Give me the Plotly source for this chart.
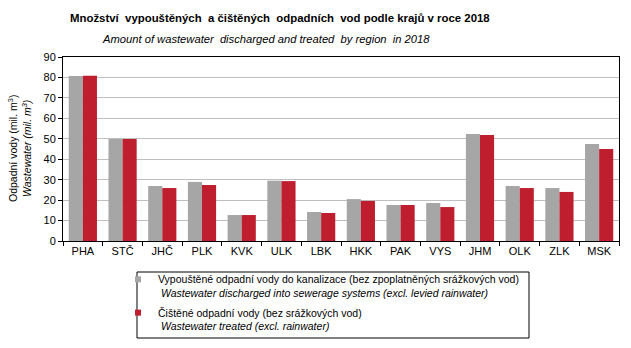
import plotly.graph_objects as go

regions = ["PHA", "STČ", "JHČ", "PLK", "KVK", "ULK", "LBK", "HKK", "PAK", "VYS", "JHM", "OLK", "ZLK", "MSK"]
discharged = [80.7, 49.9, 26.9, 28.9, 12.7, 29.5, 14.2, 20.5, 17.6, 18.6, 52.3, 26.9, 25.9, 47.4]
treated = [80.8, 49.9, 25.9, 27.4, 12.7, 29.3, 13.7, 19.6, 17.6, 16.6, 51.8, 25.9, 24.0, 45.0]
y_ticks = [0, 10, 20, 30, 40, 50, 60, 70, 80, 90]

name1 = ("Vypouštěné odpadní vody do kanalizace (bez zpoplatněných srážkových vod)"
         "<br> <i>Wastewater discharged into sewerage systems (excl. levied rainwater)</i>")
name2 = "Čištěné odpadní vody (bez srážkových vod)<br> <i>Wastewater treated (excl. rainwater)</i>"
GRAY = "#A6A6A6"
RED = "#BE1E2D"

FONT = "Liberation Sans, Arial, sans-serif"
L, R, T, B = 63, 12, 57, 107
W, H = 631, 348
pw = W - L - R
ph = H - T - B


def px(x):
    return (x - L) / pw


def py(y):
    return (H - B - y) / ph


fig = go.Figure()
fig.add_trace(go.Bar(x=regions, y=discharged, name=name1, showlegend=False,
                     marker=dict(color=GRAY, line=dict(width=0))))
fig.add_trace(go.Bar(x=regions, y=treated, name=name2, showlegend=False,
                     marker=dict(color=RED, line=dict(width=0))))
# legend entries with small square symbols
fig.add_trace(go.Scatter(x=[None], y=[None], mode="markers", name=name1, legendgroup="a",
                         marker=dict(symbol="square", size=6, color=GRAY)))
fig.add_trace(go.Scatter(x=[None], y=[None], mode="markers", name=name2, legendgroup="b",
                         marker=dict(symbol="square", size=6, color=RED)))

fig.update_layout(
    width=W, height=H,
    margin=dict(l=L, r=R, t=T, b=B, autoexpand=False),
    paper_bgcolor="white", plot_bgcolor="white",
    font=dict(family=FONT, size=11, color="black"),
    barmode="group", bargap=0.29, bargroupgap=0,
    showlegend=True,
    legend=dict(x=px(118), y=py(266), xanchor="left", yanchor="top",
                borderwidth=0, bgcolor="rgba(0,0,0,0)", valign="top",
                font=dict(size=10.5, family=FONT), tracegroupgap=3,
                itemwidth=30, traceorder="grouped"),
    shapes=[dict(type="rect", xref="paper", yref="paper",
                 x0=px(137), x1=px(529), y0=py(272), y1=py(338),
                 line=dict(color="black", width=1), fillcolor="rgba(0,0,0,0)")],
    annotations=[
        dict(text="<b>Množství  vypouštěných  a čištěných  odpadních  vod podle krajů v roce 2018</b>",
             x=px(280), y=py(18), xref="paper", yref="paper", showarrow=False,
             xanchor="center", yanchor="middle", font=dict(size=11.4, family=FONT)),
        dict(text="<i>Amount of wastewater  discharged and treated  by region  in 2018</i>",
             x=px(266), y=py(39), xref="paper", yref="paper", showarrow=False,
             xanchor="center", yanchor="middle", font=dict(size=11.2, family=FONT)),
        dict(text="Odpadní vody (mil. m<sup>3</sup>)<br><i>Wastewater (mil. m<sup>3</sup>)</i>",
             x=0, y=0.5, xref="paper", yref="paper", xanchor="center", yanchor="middle",
             xshift=-44, textangle=-90, showarrow=False, font=dict(size=10.5, family=FONT)),
    ],
    xaxis=dict(showline=True, linecolor="black", linewidth=1, mirror=True,
               ticks="outside", ticklen=4, tickcolor="black", tickson="boundaries",
               tickfont=dict(size=11), showgrid=False),
    yaxis=dict(range=[0, 90], tickvals=y_ticks, showline=True, linecolor="black", linewidth=1, mirror=True,
               ticks="outside", ticklen=4, tickcolor="black", tickfont=dict(size=11),
               showgrid=True, gridcolor="#BFBFBF", gridwidth=1, zeroline=False),
)

fig.write_html("out.html")
